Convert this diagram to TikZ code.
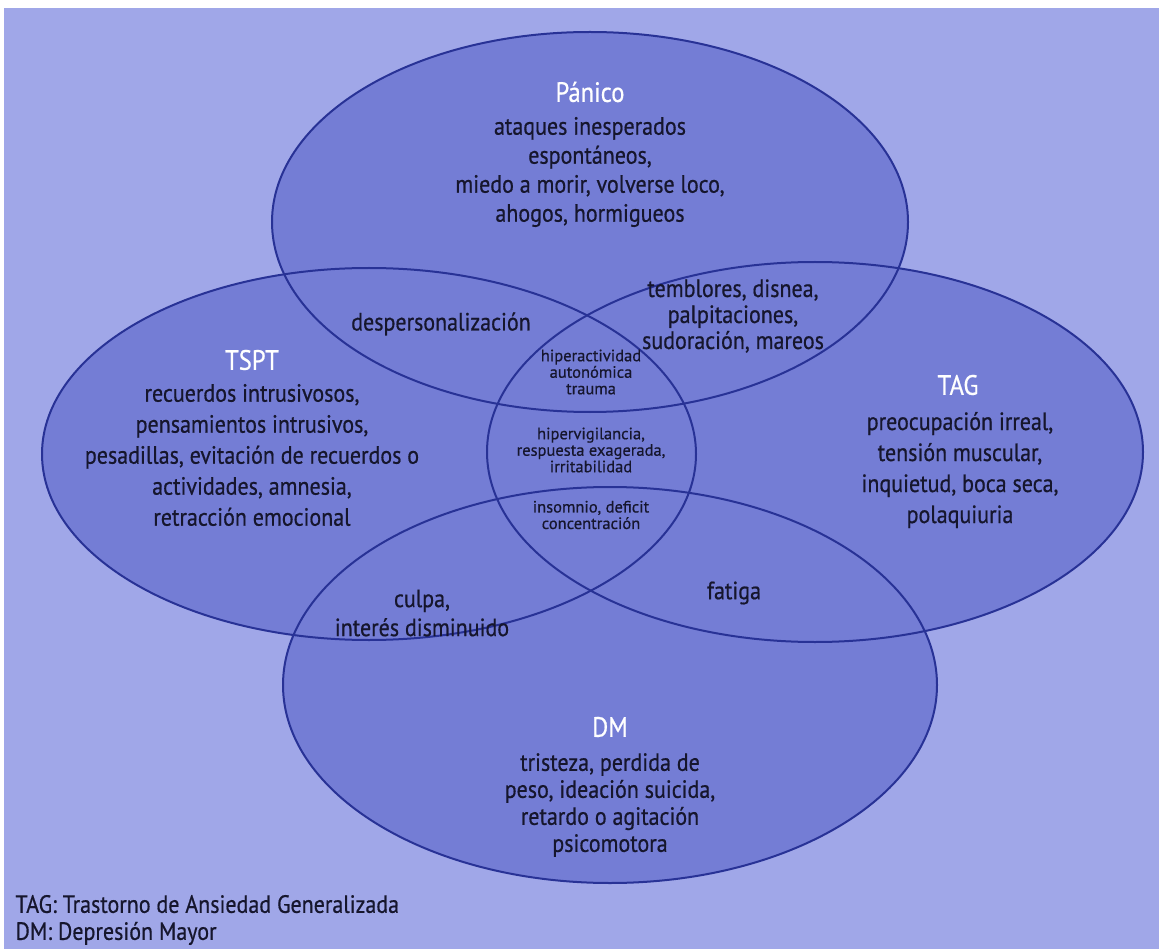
\documentclass[tikz,border=0pt]{standalone}
\usepackage{fontspec}
\setmainfont[FakeStretch=0.88,FakeBold=0.6]{PT Sans}
\newfontfamily\centrofont[FakeBold=0.5]{PT Sans}
\usepackage{xcolor}
\usepackage{tikz}
\usepackage{tkz-euclide}

\definecolor{fondo}{RGB}{160,167,232}
\definecolor{relleno}{RGB}{116,125,213}
\definecolor{borde}{RGB}{40,50,150}
\definecolor{texto}{RGB}{22,22,45}

\tikzset{
	conjunto/.style={fill=relleno},
	contorno/.style={draw=borde,line width=2pt},
	titulo/.style={text=white,font=\fontsize{28}{30}\selectfont},
	sintoma/.style={text=texto,align=center,font=\fontsize{25}{31}\selectfont},
	sintomachico/.style={text=texto,align=center,font=\centrofont\fontsize{16.5}{16.5}\selectfont},
	leyenda/.style={text=texto,anchor=west,align=left,font=\fontsize{25}{27}\selectfont}
}

\begin{document}
\begin{tikzpicture}[x=1pt,y=-1pt]
		\fill[white] (0,0) rectangle (1159,949);
		\fill[fondo] (4,8) rectangle (1159,949);
		\tkzDefPoint(590,222){P}
		\tkzDefPoint(369,454){T}
		\tkzDefPoint(815,452){G}
		\tkzDefPoint(610,685){D}
		\foreach \p/\a/\b in {P/318/190,T/327/186,G/328/190,D/327/198}
			\fill[conjunto] (\p) ellipse [x radius=\a,y radius=\b];
		\foreach \p/\a/\b in {P/318/190,T/327/186,G/328/190,D/327/198}
			\draw[contorno] (\p) ellipse [x radius=\a,y radius=\b];
		\node[titulo] (panico) at (590,92) {Pánico};
		\node[sintoma,font=\fontsize{25}{29}\selectfont] (sinpanico) at (590,172) {ataques inesperados\\espontáneos,\\miedo a morir, volverse loco,\\ahogos, hormigueos};
		\node[titulo] (tspt) at (252,360) {TSPT};
		\node[sintoma] (sintspt) at (252,455) {recuerdos intrusivosos,\\pensamientos intrusivos,\\pesadillas, evitación de recuerdos o\\actividades, amnesia,\\retracción emocional};
		\node[titulo] (tag) at (958,385) {TAG};
		\node[sintoma] (sintag) at (960,470) {preocupación irreal,\\tensión muscular,\\inquietud, boca seca,\\polaquiuria};
		\node[titulo] (dm) at (610,727) {DM};
		\node[sintoma,font=\fontsize{25}{27}\selectfont] (sindm) at (610,805) {tristeza, perdida de\\peso, ideación suicida,\\retardo o agitación\\psicomotora};
		\node[sintoma] (pt) at (441,324) {despersonalización};
		\node[sintoma,font=\fontsize{25}{26}\selectfont] (pg) at (733,316) {temblores, disnea,\\palpitaciones,\\sudoración, mareos};
		\node[sintomachico] (ptg) at (591,372) {hiperactividad\\autonómica\\trauma};
		\node[sintomachico] (tg) at (591,450) {hipervigilancia,\\respuesta exagerada,\\irritabilidad};
		\node[sintomachico] (tgd) at (591,515) {insomnio, deficit\\concentración};
		\node[sintoma,font=\fontsize{25}{29}\selectfont] (td) at (422,613) {culpa,\\interés disminuido};
		\node[sintoma] (gd) at (734,593) {fatiga};
		\node[leyenda] (leyenda) at (12,920) {TAG: Trastorno de Ansiedad Generalizada\\DM: Depresión Mayor};
	\end{tikzpicture}
\end{document}
